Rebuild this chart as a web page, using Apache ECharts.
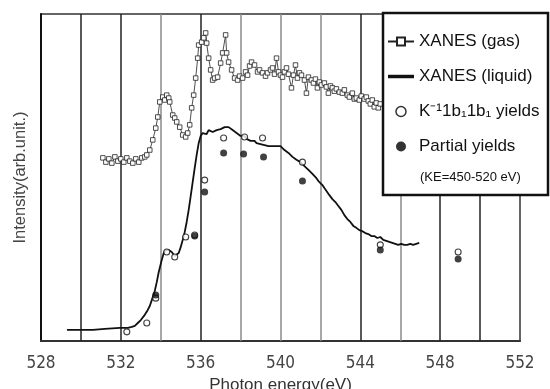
<!DOCTYPE html>
<html>
<head>
<meta charset="utf-8">
<script src="https://cdn.jsdelivr.net/npm/echarts@6/dist/echarts.min.js"></script>
<style>html,body{margin:0;padding:0;background:#fff;}#c{width:550px;height:389px;}</style>
</head>
<body>
<div id="c"></div>
<script>
// XANES (gas): photon energy (eV) and intensity (arb. unit)
const gasE = [531.1,531.25,531.4,531.55,531.7,531.85,532.0,532.15,532.3,532.45,532.6,532.75,532.9,533.05,533.2,533.3,533.45,533.6,533.75,533.85,533.95,534.1,534.2,534.3,534.4,534.45,534.6,534.7,534.8,534.95,535.1,535.25,535.35,535.45,535.55,535.65,535.75,535.85,535.9,536.05,536.15,536.25,536.3,536.4,536.5,536.6,536.7,536.85,537.0,537.1,537.25,537.3,537.4,537.55,537.7,537.85,537.95,538.1,538.25,538.35,538.45,538.55,538.7,538.85,538.95,539.1,539.25,539.35,539.5,539.6,539.7,539.8,539.9,540.0,540.1,540.2,540.3,540.4,540.55,540.65,540.75,540.85,540.95,541.05,541.2,541.3,541.4,541.55,541.65,541.75,541.85,541.95,542.05,542.2,542.3,542.4,542.5,542.6,542.7,542.8,542.95,543.1,543.2,543.35,543.45,543.6,543.7,543.8,543.95,544.05,544.2,544.3,544.4,544.5,544.6,544.7,544.8,544.9,545.0];
const gasI = [56.0,54.7,55.7,54.4,56.3,55.0,55.7,54.7,56.0,55.0,54.4,55.7,54.7,56.0,56.3,56.9,58.4,61.5,65.1,68.5,73.1,74.6,73.7,75.2,74.3,73.1,69.1,68.2,67.0,65.4,63.0,62.4,63.6,66.1,71.3,75.2,80.4,86.5,90.5,91.4,92.7,94.2,91.1,86.5,82.9,79.8,80.4,80.7,85.0,88.1,93.6,88.1,85.3,82.9,80.4,79.8,81.0,80.4,82.3,81.3,84.1,85.3,84.4,82.3,82.9,82.0,81.0,82.0,82.9,83.5,81.6,86.5,82.3,81.3,80.7,82.3,83.5,81.6,77.4,81.3,84.4,80.4,82.0,81.3,79.8,75.8,80.7,79.8,78.9,80.1,77.4,79.2,78.3,78.9,77.7,75.8,78.0,77.4,76.4,77.1,76.1,75.8,76.8,75.2,74.6,75.8,74.0,74.3,73.7,74.9,74.0,74.6,73.4,72.5,73.7,71.6,72.8,71.3,72.5];

// XANES (liquid)
const liqE = [529.3,529.95,530.6,531.2,531.95,532.35,532.55,532.7,532.85,533.0,533.2,533.35,533.45,533.55,533.7,533.8,533.9,534.05,534.15,534.25,534.4,534.55,534.7,534.8,534.9,535.0,535.1,535.2,535.3,535.4,535.5,535.6,535.7,535.8,535.9,536.0,536.1,536.2,536.3,536.4,536.5,536.6,536.7,536.8,536.9,537.0,537.1,537.2,537.3,537.4,537.5,537.6,537.7,537.8,537.9,538.0,538.1,538.2,538.3,538.4,538.5,538.6,538.7,538.8,538.9,539.0,539.1,539.2,539.3,539.4,539.5,539.6,539.7,539.8,539.9,540.0,540.1,540.2,540.3,540.4,540.5,540.6,540.7,540.8,540.9,541.0,541.1,541.2,541.3,541.4,541.5,541.6,541.7,541.8,541.9,542.0,542.1,542.2,542.3,542.45,542.6,542.75,542.9,543.05,543.2,543.35,543.5,543.65,543.8,543.95,544.1,544.25,544.4,544.55,544.7,544.85,545.0,545.15,545.3,545.45,545.6,545.75,545.9,546.05,546.2,546.35,546.5,546.65,546.8,546.95];
const liqI = [3.4,3.4,3.4,3.7,4.0,4.0,4.3,4.6,5.5,6.4,8.0,9.5,10.7,12.5,15.3,18.0,21.1,24.8,26.9,27.8,27.8,27.2,26.0,25.7,26.9,28.7,30.9,33.3,36.4,40.1,44.3,48.6,52.9,56.9,60.5,62.7,63.6,63.9,63.3,64.5,64.2,63.9,64.2,64.5,64.2,64.8,65.1,65.4,65.7,65.4,65.1,64.5,64.2,63.6,63.3,62.7,62.4,62.7,61.8,62.1,61.2,60.9,61.2,60.5,60.9,60.2,60.5,59.9,60.2,59.6,59.3,59.6,59.0,59.6,59.9,59.6,59.0,58.4,57.8,57.5,56.9,56.3,56.0,55.4,55.0,54.7,54.1,53.5,53.2,52.3,52.0,51.1,50.5,49.8,48.9,48.3,47.7,46.8,46.2,44.6,43.4,42.5,41.3,40.1,38.5,37.3,36.4,35.2,34.6,33.9,33.6,33.0,32.7,32.1,32.1,31.5,31.8,30.9,30.6,30.3,30.0,29.7,29.4,29.7,29.4,29.4,29.7,29.4,29.7,30.0];

// K^-1 1b1 1b1 yields (open circles)
const kE = [532.3,533.3,533.75,534.3,534.7,535.25,535.7,536.2,537.15,538.2,539.1,541.1,545.0,548.9];
const kI = [2.8,5.5,13.1,27.2,25.7,31.8,32.4,49.2,62.1,62.4,62.1,54.7,29.4,27.2];

// Partial yields (filled circles)
const pE = [533.75,535.7,536.2,537.15,538.15,539.15,541.1,545.0,548.9];
const pI = [14.1,32.1,45.6,57.5,57.2,56.3,48.9,27.8,25.1];

// vertical reference lines (eV)
const darkLines = [530,532,536,544,548,550];
const grayLines = [534,538,540,542,546];

const names = ['XANES (gas)','XANES (liquid)','K\u207B\u00B91b\u20811b\u2081 yields','Partial yields'];

const zip = (a,b) => a.map((x,i) => [x,b[i]]);

const chart = echarts.init(document.getElementById('c'), null, {renderer:'canvas'});
const vLines = darkLines.map(v => ({xAxis:v, lineStyle:{color:'#222', width:1.5, type:'solid'}}))
  .concat(grayLines.map(v => ({xAxis:v, lineStyle:{color:'#8a8a8a', width:1.5, type:'solid'}})));

chart.setOption({
  animation:false,
  backgroundColor:'#fff',
  grid:{left:41, right:30, top:14, bottom:48, outerBoundsMode:'none', containLabel:false,
        show:true, borderColor:'#333', borderWidth:1.5, backgroundColor:'transparent'},
  xAxis:{
    type:'value', min:528, max:552, interval:4,
    name:'Photon energy(eV)', nameLocation:'middle', nameGap:32,
    nameTextStyle:{fontFamily:'Liberation Sans, Arial, sans-serif', fontSize:17, color:'#333'},
    axisLine:{show:true, onZero:false, lineStyle:{color:'#333', width:2}},
    axisTick:{show:false},
    splitLine:{show:false},
    axisLabel:{margin:14, fontFamily:'Liberation Sans Narrow, Arial Narrow, DejaVu Sans Condensed, sans-serif', fontSize:17, color:'#444'}
  },
  yAxis:{
    type:'value', min:0, max:100,
    name:'Intensity(arb.unit.)', nameLocation:'middle', nameGap:12,
    nameTextStyle:{fontFamily:'Liberation Sans, Arial, sans-serif', fontSize:16.5, color:'#444'},
    axisLine:{show:true, onZero:false, lineStyle:{color:'#111', width:2}},
    axisTick:{show:false}, axisLabel:{show:false}, splitLine:{show:false}
  },
  legend:{
    z:21,
    orient:'vertical', left:387, top:33, padding:0, itemGap:18,
    itemWidth:26, itemHeight:10,
    textStyle:{fontFamily:'Liberation Sans, Arial, sans-serif', fontSize:17, color:'#111', lineHeight:17},
    data:[
      {name:names[0]},
      {name:names[1], icon:'path://M0,0H24V3.2H0Z'},
      {name:names[2], icon:'circle', itemStyle:{color:'#fff', borderColor:'#000', borderWidth:1.5}},
      {name:names[3], icon:'circle', itemStyle:{color:'#000'}}
    ]
  },
  graphic:[
    {type:'rect', z:20, shape:{x:383, y:13, width:165, height:182}, style:{fill:'#fff', stroke:'#111', lineWidth:2.5}},
    {type:'text', z:22, left:420, top:171, style:{text:'(KE=450-520 eV)', font:'13px "Liberation Sans", Arial, sans-serif', fill:'#111'}}
  ],
  series:[
    {
      name:names[1], type:'line', data:zip(liqE, liqI), symbol:'none', color:'#111',
      lineStyle:{color:'#111', width:1.8}, z:2,
      markLine:{silent:true, z:1, symbol:['none','none'], label:{show:false}, data:vLines}
    },
    {
      name:names[0], type:'line', data:zip(gasE, gasI), symbol:'rect', symbolSize:4.5, showAllSymbol:true,
      lineStyle:{color:'#222', width:0.8}, itemStyle:{color:'#fff', borderColor:'#222', borderWidth:0.8}, z:2
    },
    {
      name:names[2], type:'scatter', data:zip(kE, kI), symbol:'circle', symbolSize:6,
      itemStyle:{color:'#fff', borderColor:'#111', borderWidth:1.1}, z:3
    },
    {
      name:names[3], type:'scatter', data:zip(pE, pI), symbol:'circle', symbolSize:7,
      itemStyle:{color:'#111'}, z:3
    }
  ]
});
</script>
</body>
</html>
